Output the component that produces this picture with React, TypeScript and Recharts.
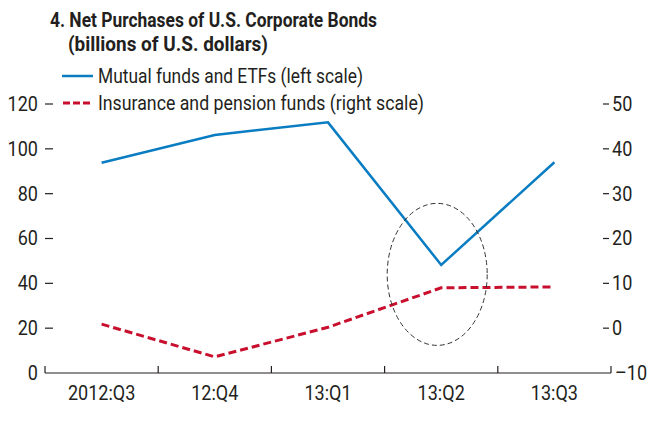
import React from 'react';
import { LineChart, Line, XAxis, YAxis, ReferenceDot } from 'recharts';

const categories = ['2012:Q3', '12:Q4', '13:Q1', '13:Q2', '13:Q3'];
const mutualFunds = [93.8, 106.2, 111.8, 48.2, 94.0];
const insurancePension = [0.9, -6.4, 0.2, 9.0, 9.2];
const leftTicks = [0, 20, 40, 60, 80, 100, 120];
const rightTicks = [-10, 0, 10, 20, 30, 40, 50];
const highlightCategory = '13:Q2';
const highlightLeftValue = 44;
const titleLines = ['4. Net Purchases of U.S. Corporate Bonds', '(billions of U.S. dollars)'];
const seriesNames = ['Mutual funds and ETFs (left scale)', 'Insurance and pension funds (right scale)'];

const data = categories.map((c, i) => ({
  cat: c,
  mutual: mutualFunds[i],
  insurance: insurancePension[i],
}));

const W = 661;
const H = 431;
const PLOT_LEFT = 45;
const PLOT_RIGHT = 611;
const PLOT_TOP = 104;
const PLOT_BOTTOM = 373;
const HALF = (PLOT_RIGHT - PLOT_LEFT) / categories.length / 2;

const FONT = "Roboto, 'Liberation Sans', sans-serif";
const TEXT = '#231f20';
const BLUE = '#0a7dc2';
const RED = '#c8102e';
const SX = 0.88;

const NarrowText = ({ x, y, anchor, children, size = 20.5, weight = 'normal' }: any) => (
  <text
    transform={`translate(${x},${y}) scale(${SX},1)`}
    textAnchor={anchor}
    dominantBaseline="central"
    fontFamily={FONT}
    fontSize={size}
    fontWeight={weight}
    fill={TEXT}
  >
    {children}
  </text>
);

const LeftTick = (props: any) => {
  const { x, y, payload } = props;
  return (
    <g>
      <NarrowText x={x - 7} y={y} anchor="end">{payload.value}</NarrowText>
      {payload.value !== 0 && <line x1={x} x2={x + 8} y1={y} y2={y} stroke={TEXT} strokeWidth={1.2} />}
    </g>
  );
};

const RightTick = (props: any) => {
  const { x, y, payload } = props;
  const v = payload.value;
  const label = v < 0 ? '\u2013' + Math.abs(v) : String(v);
  return (
    <g>
      <NarrowText x={x + (v < 0 ? 4 : 1)} y={y} anchor="start">{label}</NarrowText>
      {v !== -10 && <line x1={x - 8} x2={x - 2} y1={y} y2={y} stroke={TEXT} strokeWidth={1.2} />}
    </g>
  );
};

const BottomTick = (props: any) => {
  const { x, y, payload, index } = props;
  const last = index === categories.length - 1;
  return (
    <g>
      <NarrowText x={x} y={y + 20} anchor="middle">{payload.value}</NarrowText>
      <line x1={x - HALF} x2={x - HALF} y1={y} y2={y - 7} stroke={TEXT} strokeWidth={1.2} />
      {last && <line x1={x + HALF} x2={x + HALF} y1={y} y2={y - 7} stroke={TEXT} strokeWidth={1.2} />}
    </g>
  );
};

const EllipseShape = (props: any) => {
  const { cx, cy } = props;
  return (
    <ellipse cx={cx - 4} cy={cy} rx={50} ry={71} fill="none" stroke="#333" strokeWidth={1} strokeDasharray="5 3" />
  );
};

export default function App() {
  return (
    <div style={{ position: 'absolute', left: 0, top: 0, width: W, height: H, background: '#fff' }}>
      <LineChart width={W} height={H} data={data} margin={{ top: PLOT_TOP, right: 0, bottom: 0, left: 0 }}>
        <XAxis
          dataKey="cat"
          height={H - PLOT_BOTTOM}
          padding={{ left: HALF, right: HALF }}
          tickLine={false}
          tickSize={0}
          tickMargin={0}
          axisLine={{ stroke: TEXT, strokeWidth: 1.2 }}
          tick={<BottomTick />}
          interval={0}
        />
        <YAxis
          yAxisId="left"
          orientation="left"
          width={PLOT_LEFT}
          domain={[0, 120]}
          ticks={leftTicks}
          axisLine={false}
          tickLine={false}
          tickSize={0}
          tickMargin={0}
          tick={<LeftTick />}
          interval={0}
        />
        <YAxis
          yAxisId="right"
          orientation="right"
          width={W - PLOT_RIGHT}
          domain={[-10, 50]}
          ticks={rightTicks}
          axisLine={false}
          tickLine={false}
          tickSize={0}
          tickMargin={0}
          tick={<RightTick />}
          interval={0}
        />
        <Line
          yAxisId="right"
          dataKey="insurance"
          name={seriesNames[1]}
          stroke={RED}
          strokeWidth={3}
          strokeDasharray="8 4"
          dot={false}
          isAnimationActive={false}
        />
        <Line
          yAxisId="left"
          dataKey="mutual"
          name={seriesNames[0]}
          stroke={BLUE}
          strokeWidth={2.5}
          dot={false}
          isAnimationActive={false}
        />
        <ReferenceDot
          yAxisId="left"
          x={highlightCategory}
          y={highlightLeftValue}
          shape={<EllipseShape />}
          ifOverflow="visible"
        />
      </LineChart>
      <svg width={W} height={120} style={{ position: 'absolute', left: 0, top: 0, pointerEvents: 'none' }}>
        <text x={50} y={27} fontFamily={FONT} fontWeight="bold" fontSize={20.5} fill={TEXT} textLength={327} lengthAdjust="spacingAndGlyphs">
          {titleLines[0]}
        </text>
        <text x={68} y={51} fontFamily={FONT} fontWeight="bold" fontSize={20.5} fill={TEXT} textLength={200} lengthAdjust="spacingAndGlyphs">
          {titleLines[1]}
        </text>
        <line x1={62} x2={93} y1={76} y2={76} stroke={BLUE} strokeWidth={2.5} />
        <text x={98} y={83} fontFamily={FONT} fontSize={20.5} fill={TEXT} textLength={265} lengthAdjust="spacingAndGlyphs">
          {seriesNames[0]}
        </text>
        <line x1={63} x2={93} y1={103} y2={103} stroke={RED} strokeWidth={3} strokeDasharray="7 3" />
        <text x={98} y={110} fontFamily={FONT} fontSize={20.5} fill={TEXT} textLength={326} lengthAdjust="spacingAndGlyphs">
          {seriesNames[1]}
        </text>
      </svg>
    </div>
  );
}
